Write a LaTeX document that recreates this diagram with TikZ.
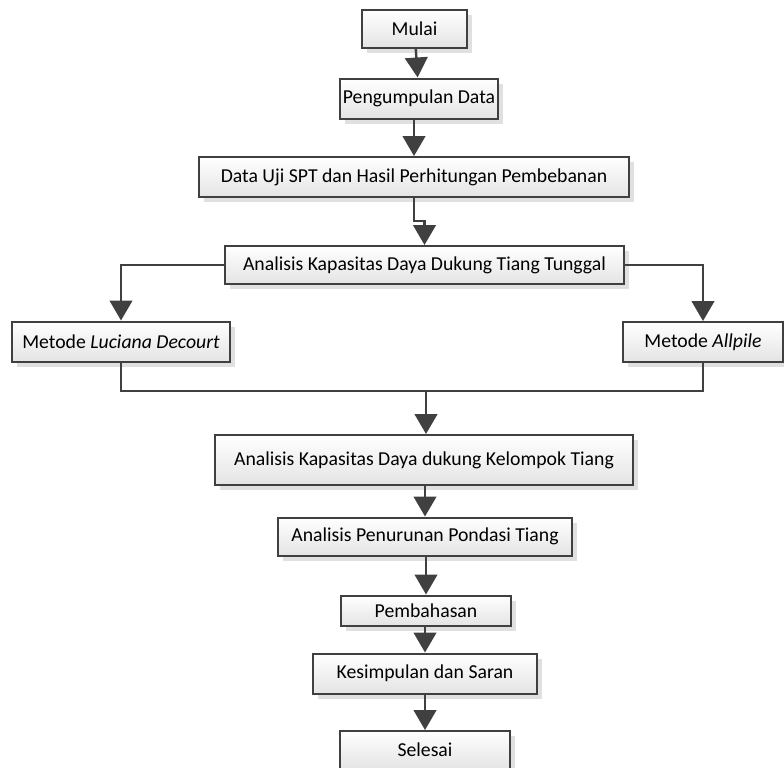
\documentclass[tikz,border=0pt]{standalone}
\usepackage{fontspec}
\setmainfont{Carlito}
\usetikzlibrary{arrows.meta,shadows,positioning}
\definecolor{garis}{HTML}{404040}
\definecolor{abu}{HTML}{E4E4E4}

\begin{document}
\begin{tikzpicture}[x = .75pt, y = .75pt,every node/.style={font=\fontsize{14.8pt}{17pt}\selectfont},
  proses/.style={align=center,draw=garis,line width=1.5pt,top color=white,bottom color=abu,inner sep=2pt,
    drop shadow={shadow xshift=4pt,shadow yshift=-4pt,fill=black!12,opacity=1}},
  panah/.style={-{Triangle[length=15pt,width=17pt]}, draw=garis, line width=1.8pt},
  garisan/.style={draw=garis, line width=1.8pt}]
\useasboundingbox (0,0) rectangle (784,-767);
\node[proses,minimum width=78.75pt,minimum height=28.5pt] (mulai) at (414.5,-29) {Mulai};
\node[proses,minimum width=118.5pt,minimum height=30pt] (kumpul) at (419,-98.5) {Pengumpulan Data};
\node[proses,minimum width=322.5pt,minimum height=30pt] (datauji) at (414,-177) {Data Uji SPT dan Hasil Perhitungan Pembebanan};
\node[proses,minimum width=299.25pt,minimum height=28.5pt] (tunggal) at (424.5,-265) {Analisis Kapasitas Daya Dukung Tiang Tunggal};
\node[proses,minimum width=163.5pt,minimum height=30pt] (luciana) at (121,-341.5) {Metode \textit{Luciana Decourt}};
\node[proses,minimum width=120pt,minimum height=30pt] (allpile) at (703,-342) {Metode \textit{Allpile}};
\node[proses,minimum width=313.5pt,minimum height=37.5pt] (kelompok) at (424,-460) {Analisis Kapasitas Daya dukung Kelompok Tiang};
\node[proses,minimum width=220.5pt,minimum height=28.5pt] (turun) at (425,-536.5) {Analisis Penurunan Pondasi Tiang};
\node[proses,minimum width=127.5pt,minimum height=22.5pt] (bahas) at (426,-610.5) {Pembahasan};
\node[proses,minimum width=168pt,minimum height=30pt] (simpul) at (425,-673.5) {Kesimpulan dan Saran};
\node[proses,minimum width=127.5pt,minimum height=28.5pt] (selesai) at (425,-750) {Selesai};
\coordinate (gabung) at (426,-391);
% alur utama
\draw[panah] (mulai) -- (kumpul);
\draw[panah] (kumpul.south -| datauji.north) -- (datauji);
\draw[panah] (datauji.south) -- ++(0,-23) -| (tunggal.north);
\draw[panah] (tunggal.west) -| (luciana.north);
\draw[panah] (tunggal.east) -| (allpile.north);
\draw[garisan] (luciana.south) |- (gabung) -| (allpile.south);
\draw[panah] (gabung) -- (gabung |- kelompok.north);
\draw[panah] (kelompok.south -| turun.north) -- (turun);
\draw[panah] (turun.south -| bahas.north) -- (bahas);
\draw[panah] (bahas.south -| simpul.north) -- (simpul);
\draw[panah] (simpul) -- (selesai);
\end{tikzpicture}
\end{document}
